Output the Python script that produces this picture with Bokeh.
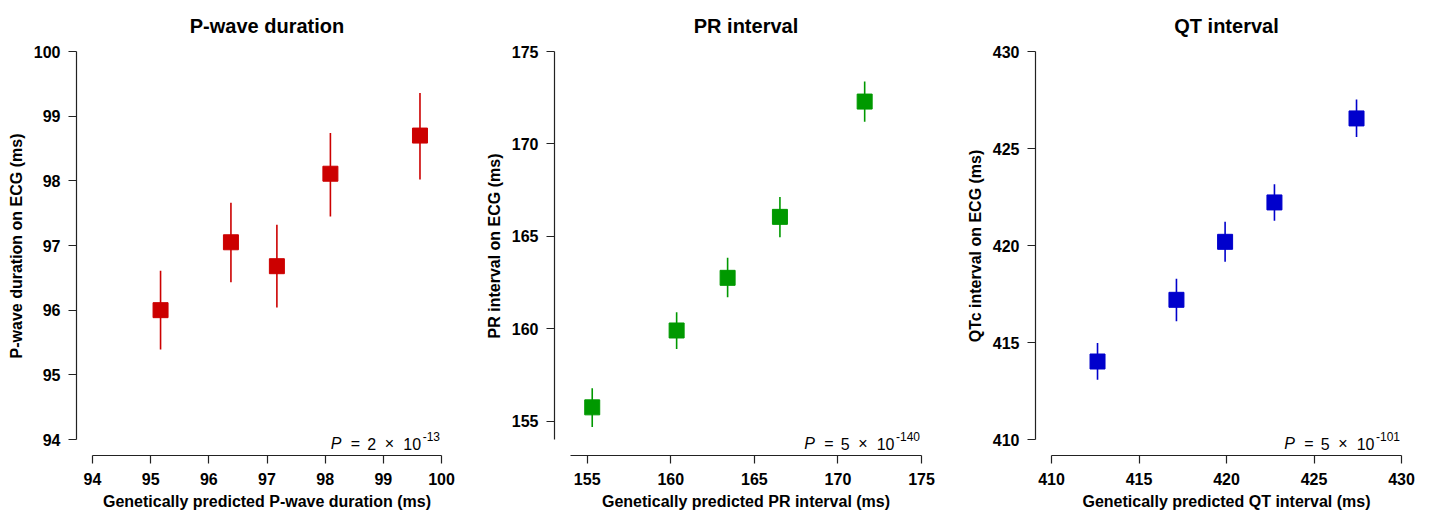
from bokeh.plotting import figure
from bokeh.layouts import row
from bokeh.models import Range1d, FixedTicker, Label
from bokeh.embed import file_html
from bokeh.resources import INLINE

# ---------------- data ----------------
pw_title = "P-wave duration"
pw_xlabel = "Genetically predicted P-wave duration (ms)"
pw_ylabel = "P-wave duration on ECG (ms)"
pw_x = [95.17, 96.38, 97.17, 98.09, 99.63]
pw_y = [96.00, 97.05, 96.68, 98.11, 98.70]
pw_lo = [95.39, 96.43, 96.04, 97.45, 98.02]
pw_hi = [96.61, 97.66, 97.32, 98.74, 99.36]
pw_ticks = [94, 95, 96, 97, 98, 99, 100]
pw_lim = [94, 100]
pw_p = ["2", "-13"]

pr_title = "PR interval"
pr_xlabel = "Genetically predicted PR interval (ms)"
pr_ylabel = "PR interval on ECG (ms)"
pr_x = [155.30, 160.35, 163.40, 166.53, 171.60]
pr_y = [155.74, 159.90, 162.75, 166.05, 172.29]
pr_lo = [154.67, 158.90, 161.70, 164.94, 171.20]
pr_hi = [156.78, 160.89, 163.84, 167.13, 173.37]
pr_ticks = [155, 160, 165, 170, 175]
pr_lim = [154, 175]
pr_p = ["5", "-140"]

qt_title = "QT interval"
qt_xlabel = "Genetically predicted QT interval (ms)"
qt_ylabel = "QTc interval on ECG (ms)"
qt_x = [412.63, 417.14, 419.92, 422.74, 427.43]
qt_y = [414.02, 417.20, 420.19, 422.22, 426.55]
qt_lo = [413.08, 416.10, 419.16, 421.27, 425.59]
qt_hi = [414.98, 418.28, 421.22, 423.16, 427.53]
qt_ticks = [410, 415, 420, 425, 430]
qt_lim = [410, 430]
qt_p = ["5", "-101"]

colors = ["#CC0000", "#009900", "#0000CC"]

FONT = "Liberation Sans"
# layout (pixels)
HEIGHT = 512
TOP = 36          # frame top
FRAME_H = 419     # frame height
AX_TOP_PAD = 15   # frame top -> upper end of y axis
AX_BOT_PAD = 16   # lower end of y axis -> frame bottom
AX_SIDE_PAD = 16  # frame left/right -> ends of x axis


def make_panel(title, xlabel, ylabel, xs, ys, lo, hi, ticks, lim, pval, color,
               left, frame_w, right):
    span = lim[1] - lim[0]
    ax_w = frame_w - 2 * AX_SIDE_PAD
    ax_h = FRAME_H - AX_TOP_PAD - AX_BOT_PAD
    xr = Range1d(lim[0] - AX_SIDE_PAD / ax_w * span, lim[1] + AX_SIDE_PAD / ax_w * span)
    yr = Range1d(lim[0] - AX_BOT_PAD / ax_h * span, lim[1] + AX_TOP_PAD / ax_h * span)
    p = figure(width=left + frame_w + right, height=HEIGHT, output_backend="svg",
               toolbar_location=None, x_range=xr, y_range=yr,
               min_border_left=left, min_border_right=right,
               min_border_top=TOP, min_border_bottom=HEIGHT - TOP - FRAME_H)
    p.outline_line_color = None
    p.xgrid.visible = False
    p.ygrid.visible = False
    p.background_fill_color = "white"
    p.border_fill_color = "white"

    p.title.text = title
    p.title.align = "center"
    p.title.text_font = FONT
    p.title.text_font_style = "bold"
    p.title.text_font_size = "20px"
    p.title.text_color = "black"
    p.title.standoff = 0

    for ax in (p.xaxis[0], p.yaxis[0]):
        ax.ticker = FixedTicker(ticks=ticks)
        ax.bounds = (lim[0], lim[1])
        ax.axis_line_color = "#222222"
        ax.axis_line_width = 1.2
        ax.major_tick_line_color = "#222222"
        ax.major_tick_line_width = 1.2
        ax.major_tick_out = 8
        ax.major_tick_in = 0
        ax.minor_tick_out = 0
        ax.minor_tick_in = 0
        ax.major_label_text_font = FONT
        ax.major_label_text_font_style = "bold"
        ax.major_label_text_font_size = "16px"
        ax.major_label_text_color = "black"
        ax.axis_label_text_font = FONT
        ax.axis_label_text_font_style = "bold"
        ax.axis_label_text_font_size = "16px"
        ax.axis_label_text_color = "black"
    p.xaxis.axis_label = xlabel
    p.yaxis.axis_label = ylabel
    p.xaxis.major_label_standoff = 9
    p.xaxis.axis_label_standoff = 5
    p.yaxis.major_label_standoff = 8
    p.yaxis.axis_label_standoff = 6
    p.yaxis.major_label_orientation = "horizontal"

    p.segment(x0=xs, y0=lo, x1=xs, y1=hi, line_color=color, line_width=1.6)
    p.scatter(xs, ys, marker="square", size=15, fill_color=color, line_color=color)

    # P-value annotation, right-aligned at the end of the x axis
    cw = {"-": 0.333}
    supw = sum(cw.get(c, 0.556) for c in pval[1]) * 12
    sup_start = -1.5 - supw
    base = sup_start - 91.8
    pieces = [("P", 0, "italic"), ("=", 20, "normal"), (pval[0], 36.5, "normal"),
              ("\u00d7", 54, "normal"), ("10", 72.5, "normal")]
    for txt, off, style in pieces:
        p.add_layout(Label(x=lim[1], y=lim[0], x_offset=base + off, y_offset=-4.3,
                           text=txt, text_font=FONT, text_font_style=style,
                           text_font_size="16px", text_color="black",
                           text_align="left", text_baseline="alphabetic"))
    p.add_layout(Label(x=lim[1], y=lim[0], x_offset=sup_start, y_offset=3.3,
                       text=pval[1], text_font=FONT, text_font_size="12px",
                       text_color="black", text_align="left",
                       text_baseline="alphabetic"))
    return p


p1 = make_panel(pw_title, pw_xlabel, pw_ylabel, pw_x, pw_y, pw_lo, pw_hi,
                pw_ticks, pw_lim, pw_p, colors[0], 76, 381, 23)
p2 = make_panel(pr_title, pr_xlabel, pr_ylabel, pr_x, pr_y, pr_lo, pr_hi,
                pr_ticks, pr_lim, pr_p, colors[1], 74, 383, 22)
p3 = make_panel(qt_title, qt_xlabel, qt_ylabel, qt_x, qt_y, qt_lo, qt_hi,
                qt_ticks, qt_lim, qt_p, colors[2], 76, 382, 10)

layout = row(p1, p2, p3)
open("out.html", "w").write(file_html(layout, INLINE))
